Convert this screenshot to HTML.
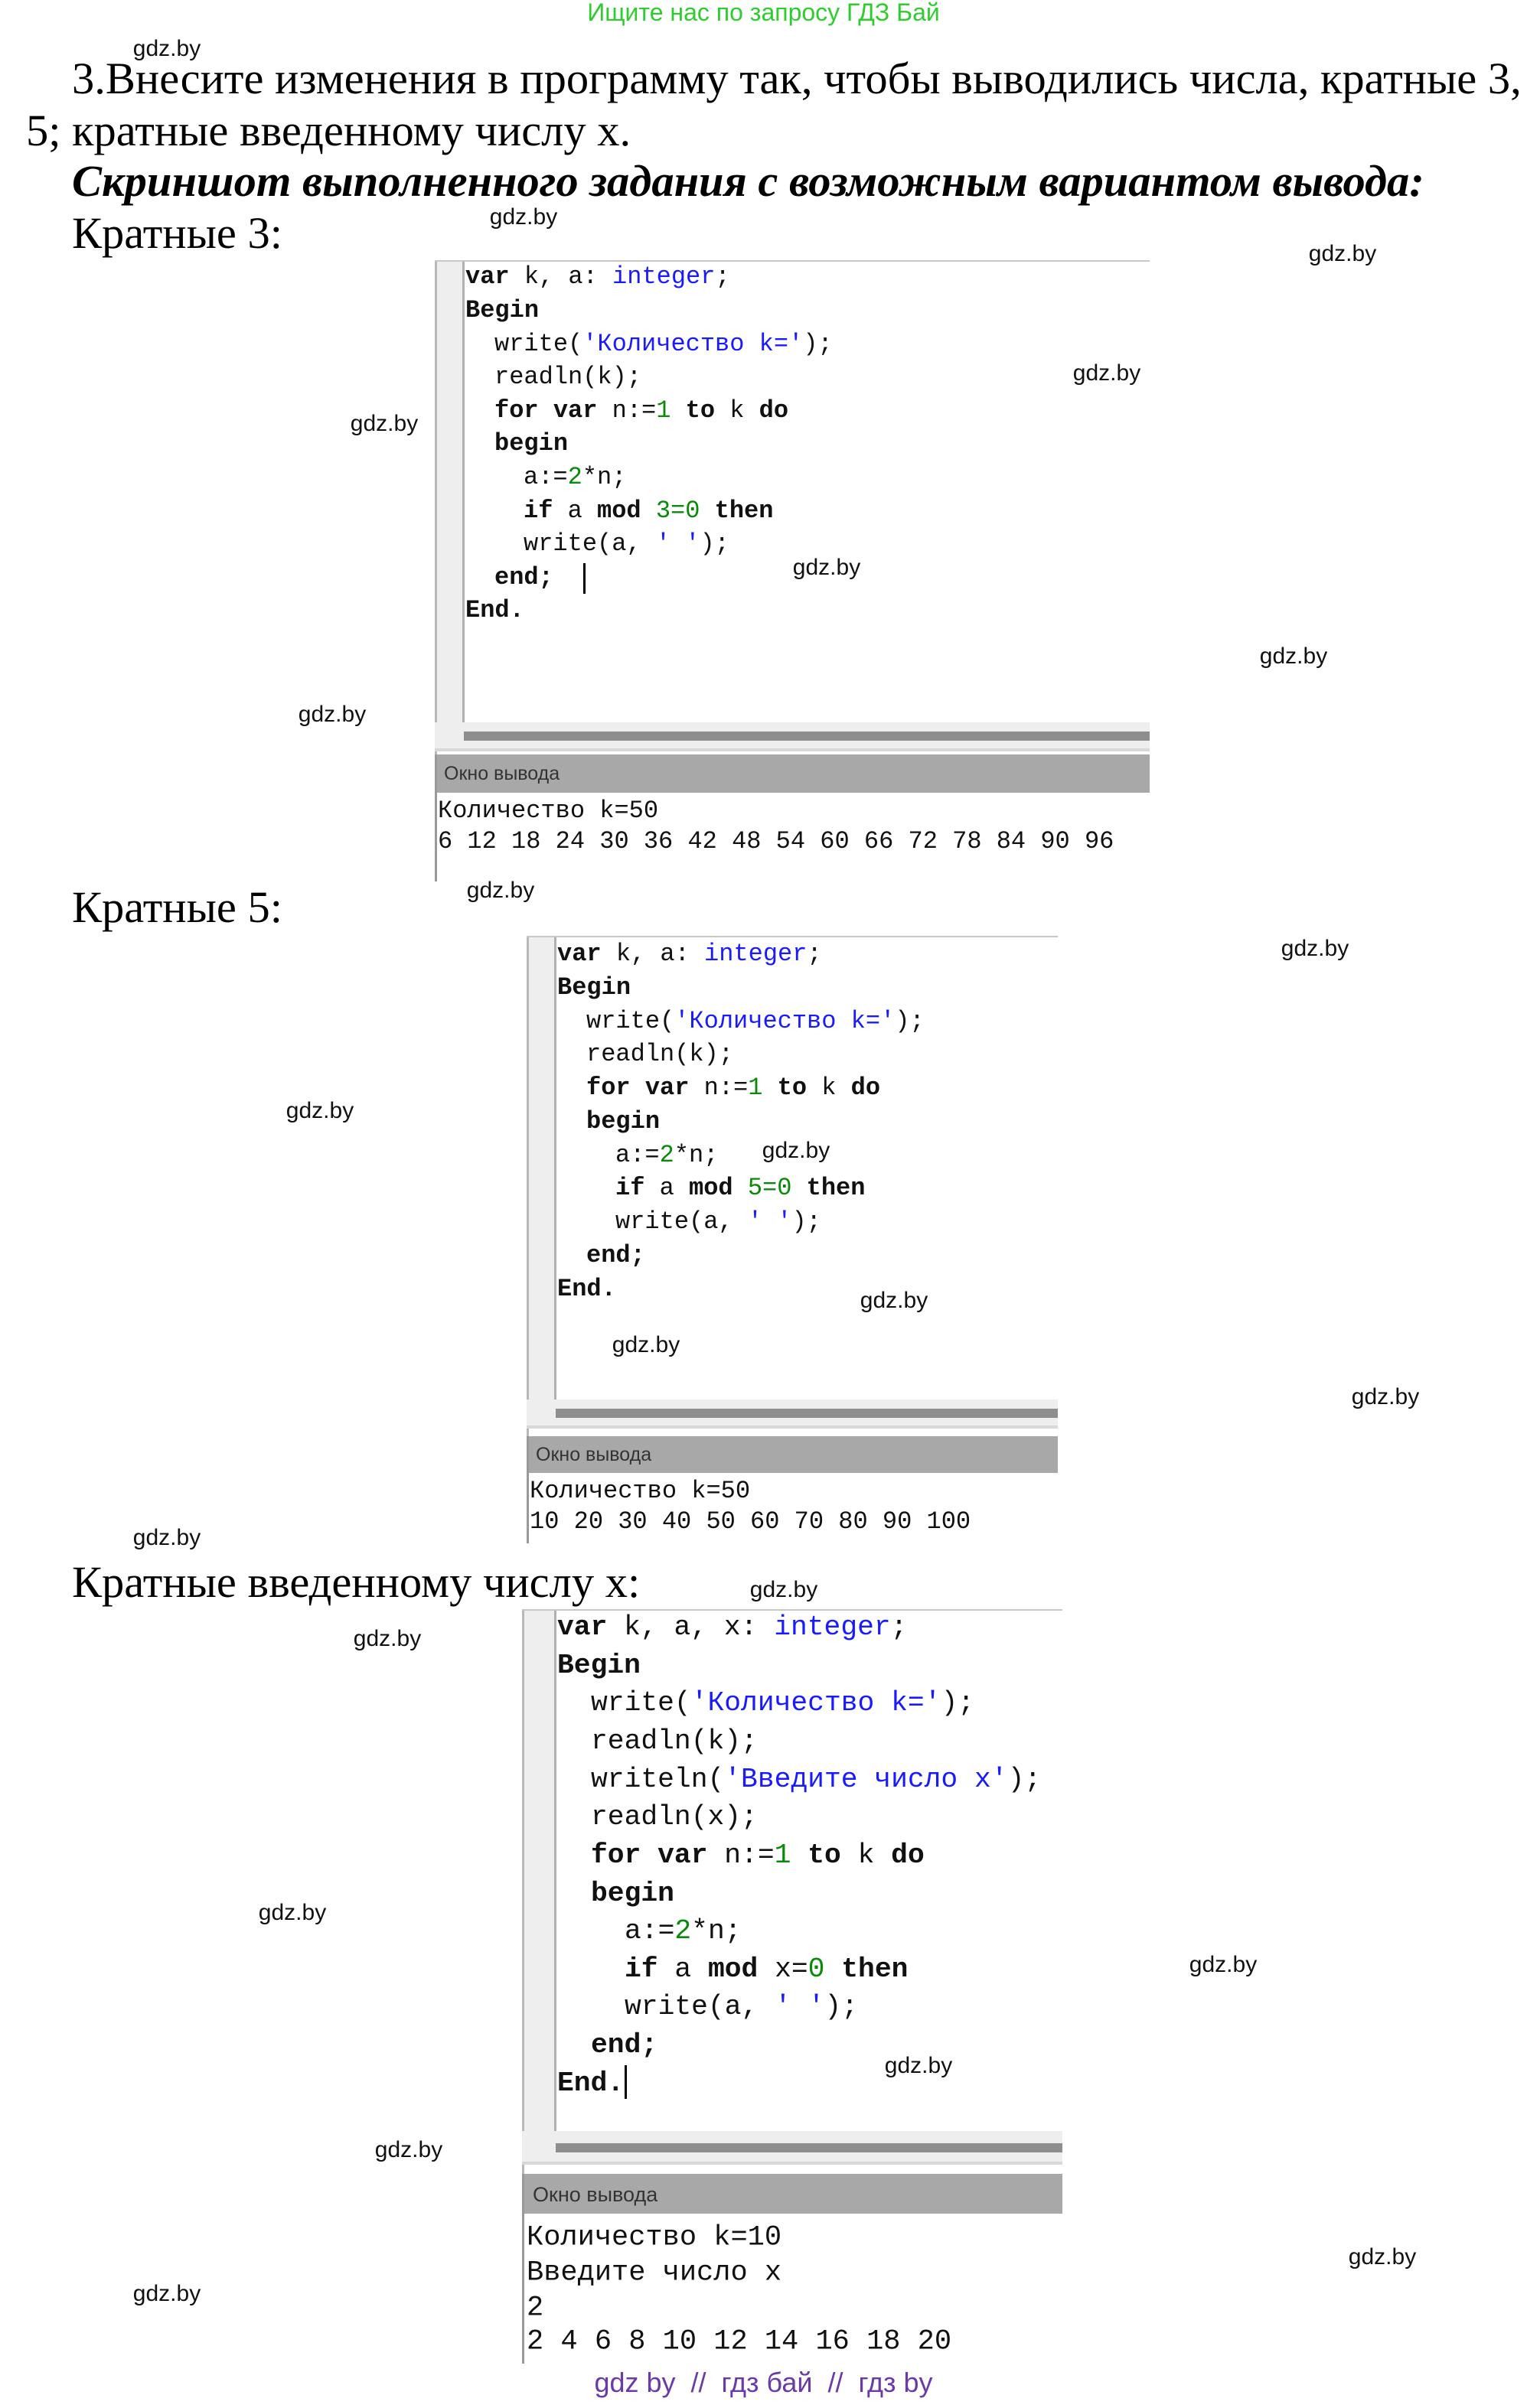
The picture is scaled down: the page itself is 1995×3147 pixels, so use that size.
<!DOCTYPE html>
<html><head><meta charset="utf-8">
<style>
body{margin:0;width:1995px;height:3147px;position:relative;background:#fff;overflow:hidden;font-family:"Liberation Serif",serif;}
.a{position:absolute;white-space:pre;}
.wm{position:absolute;font-family:"Liberation Sans",sans-serif;font-size:30px;color:#111;line-height:1;transform:translate(-50%,-50%);margin-top:4px;}
.t{position:absolute;white-space:pre;font-family:"Liberation Serif",serif;color:#000;line-height:1;}
.code{position:absolute;white-space:pre;font-family:"Liberation Mono",monospace;color:#111;line-height:1;transform:translateY(-50%);}
.b{font-weight:bold;}
.s{color:#1a1aff;}
.n{color:#0a8a0a;}
.blk{position:absolute;}
.hdr{position:absolute;background:#a8a8a8;font-family:"Liberation Sans",sans-serif;color:#333;}
.w{position:absolute;left:0;width:0;height:0;}
</style></head><body>

<div class="a" style="left:0;width:1995px;text-align:center;top:-2px;font-family:'Liberation Sans',sans-serif;font-size:32px;color:#2ecc2e;">Ищите нас по запросу ГДЗ Бай</div>

<div class="t" style="left:94px;top:74px;font-size:58.5px;">3.Внесите изменения в программу так, чтобы выводились числа, кратные 3,</div>
<div class="t" style="left:34px;top:142px;font-size:58.5px;">5; кратные введенному числу х.</div>
<div class="t" style="left:94px;top:208px;font-size:58.5px;font-weight:bold;font-style:italic;">Скриншот выполненного задания с возможным вариантом вывода:</div>
<div class="t" style="left:94px;top:276px;font-size:58.5px;">Кратные 3:</div>
<div class="t" style="left:94px;top:1157px;font-size:58.5px;">Кратные 5:</div>
<div class="t" style="left:94px;top:2039px;font-size:58.5px;">Кратные введенному числу х:</div>

<!-- Block 1 -->
<div class="w" style="top:4px">
<div class="blk" style="left:568px;top:336px;width:934px;height:2px;background:#c8c8c8"></div>
<div class="blk" style="left:568px;top:338px;width:36px;height:602px;background:#eeeeee"></div>
<div class="blk" style="left:604px;top:338px;width:3px;height:602px;background:#b0b0b0"></div>
<div class="blk" style="left:568px;top:338px;width:3px;height:810px;background:#b8b8b8"></div>
<div class="blk" style="left:568px;top:940px;width:934px;height:34px;background:#eeeeee"></div>
<div class="blk" style="left:606px;top:952px;width:896px;height:12px;background:#8e8e8e"></div>
<div class="blk" style="left:568px;top:974px;width:934px;height:4px;background:#d8d8d8"></div>
<div class="hdr" style="left:568px;top:982px;width:934px;height:50px;"><span style="position:absolute;left:12px;top:11px;font-size:25px;">Окно вывода</span></div>
<div class="blk" style="left:568px;top:982px;width:3px;height:166px;background:#999"></div>

<div class="code" style="left:608px;top:358px;font-size:32px;"><span class="b">var</span> k, a: <span class="s">integer</span>;</div>
<div class="code b" style="left:608px;top:402px;font-size:32px;">Begin</div>
<div class="code" style="left:646px;top:446px;font-size:32px;">write(<span class="s">'Количество k='</span>);</div>
<div class="code" style="left:646px;top:489px;font-size:32px;">readln(k);</div>
<div class="code" style="left:646px;top:533px;font-size:32px;"><span class="b">for var</span> n:=<span class="n">1</span> <span class="b">to</span> k <span class="b">do</span></div>
<div class="code b" style="left:646px;top:576px;font-size:32px;">begin</div>
<div class="code" style="left:684px;top:620px;font-size:32px;">a:=<span class="n">2</span>*n;</div>
<div class="code" style="left:684px;top:664px;font-size:32px;"><span class="b">if</span> a <span class="b">mod</span> <span class="n">3=0</span> <span class="b">then</span></div>
<div class="code" style="left:684px;top:707px;font-size:32px;">write(a, <span class="s">' '</span>);</div>
<div class="code b" style="left:646px;top:751px;font-size:32px;">end;</div>
<div class="blk" style="left:762px;top:732px;width:3px;height:40px;background:#000"></div>
<div class="code b" style="left:608px;top:794px;font-size:32px;">End.</div>
<div class="code" style="left:572px;top:1056px;font-size:32px;">Количество k=50</div>
<div class="code" style="left:572px;top:1096px;font-size:32px;">6 12 18 24 30 36 42 48 54 60 66 72 78 84 90 96</div>
</div>

<!-- Block 2 -->
<div class="w" style="top:7px">
<div class="blk" style="left:688px;top:1216px;width:694px;height:2px;background:#c8c8c8"></div>
<div class="blk" style="left:688px;top:1218px;width:36px;height:604px;background:#eeeeee"></div>
<div class="blk" style="left:724px;top:1218px;width:3px;height:604px;background:#b0b0b0"></div>
<div class="blk" style="left:688px;top:1218px;width:3px;height:792px;background:#b8b8b8"></div>
<div class="blk" style="left:688px;top:1822px;width:694px;height:34px;background:#eeeeee"></div>
<div class="blk" style="left:726px;top:1834px;width:656px;height:12px;background:#8e8e8e"></div>
<div class="blk" style="left:688px;top:1856px;width:694px;height:4px;background:#d8d8d8"></div>
<div class="hdr" style="left:688px;top:1870px;width:694px;height:48px;"><span style="position:absolute;left:12px;top:10px;font-size:25px;">Окно вывода</span></div>
<div class="blk" style="left:688px;top:1870px;width:3px;height:140px;background:#999"></div>

<div class="code" style="left:728px;top:1240px;font-size:32px;"><span class="b">var</span> k, a: <span class="s">integer</span>;</div>
<div class="code b" style="left:728px;top:1284px;font-size:32px;">Begin</div>
<div class="code" style="left:766px;top:1328px;font-size:32px;">write(<span class="s">'Количество k='</span>);</div>
<div class="code" style="left:766px;top:1371px;font-size:32px;">readln(k);</div>
<div class="code" style="left:766px;top:1415px;font-size:32px;"><span class="b">for var</span> n:=<span class="n">1</span> <span class="b">to</span> k <span class="b">do</span></div>
<div class="code b" style="left:766px;top:1459px;font-size:32px;">begin</div>
<div class="code" style="left:804px;top:1503px;font-size:32px;">a:=<span class="n">2</span>*n;</div>
<div class="code" style="left:804px;top:1546px;font-size:32px;"><span class="b">if</span> a <span class="b">mod</span> <span class="n">5=0</span> <span class="b">then</span></div>
<div class="code" style="left:804px;top:1590px;font-size:32px;">write(a, <span class="s">' '</span>);</div>
<div class="code b" style="left:766px;top:1634px;font-size:32px;">end;</div>
<div class="code b" style="left:728px;top:1678px;font-size:32px;">End.</div>
<div class="code" style="left:692px;top:1942px;font-size:32px;">Количество k=50</div>
<div class="code" style="left:692px;top:1982px;font-size:32px;">10 20 30 40 50 60 70 80 90 100</div>
</div>

<!-- Block 3 -->
<div class="w" style="top:9px">
<div class="blk" style="left:682px;top:2094px;width:706px;height:2px;background:#c8c8c8"></div>
<div class="blk" style="left:682px;top:2096px;width:42px;height:680px;background:#eeeeee"></div>
<div class="blk" style="left:724px;top:2096px;width:3px;height:680px;background:#b0b0b0"></div>
<div class="blk" style="left:682px;top:2096px;width:3px;height:984px;background:#b8b8b8"></div>
<div class="blk" style="left:682px;top:2776px;width:706px;height:40px;background:#eeeeee"></div>
<div class="blk" style="left:726px;top:2792px;width:662px;height:12px;background:#8e8e8e"></div>
<div class="blk" style="left:682px;top:2816px;width:706px;height:4px;background:#d8d8d8"></div>
<div class="hdr" style="left:682px;top:2832px;width:706px;height:52px;"><span style="position:absolute;left:14px;top:12px;font-size:27px;">Окно вывода</span></div>
<div class="blk" style="left:682px;top:2832px;width:3px;height:248px;background:#999"></div>

<div class="code" style="left:728px;top:2118px;font-size:36.3px;"><span class="b">var</span> k, a, x: <span class="s">integer</span>;</div>
<div class="code b" style="left:728px;top:2168px;font-size:36.3px;">Begin</div>
<div class="code" style="left:772px;top:2217px;font-size:36.3px;">write(<span class="s">'Количество k='</span>);</div>
<div class="code" style="left:772px;top:2267px;font-size:36.3px;">readln(k);</div>
<div class="code" style="left:772px;top:2317px;font-size:36.3px;">writeln(<span class="s">'Введите число x'</span>);</div>
<div class="code" style="left:772px;top:2366px;font-size:36.3px;">readln(x);</div>
<div class="code" style="left:772px;top:2416px;font-size:36.3px;"><span class="b">for var</span> n:=<span class="n">1</span> <span class="b">to</span> k <span class="b">do</span></div>
<div class="code b" style="left:772px;top:2466px;font-size:36.3px;">begin</div>
<div class="code" style="left:816px;top:2515px;font-size:36.3px;">a:=<span class="n">2</span>*n;</div>
<div class="code" style="left:816px;top:2565px;font-size:36.3px;"><span class="b">if</span> a <span class="b">mod</span> x=<span class="n">0</span> <span class="b">then</span></div>
<div class="code" style="left:816px;top:2614px;font-size:36.3px;">write(a, <span class="s">' '</span>);</div>
<div class="code b" style="left:772px;top:2664px;font-size:36.3px;">end;</div>
<div class="code b" style="left:728px;top:2714px;font-size:36.3px;">End.</div>
<div class="blk" style="left:816px;top:2690px;width:3px;height:44px;background:#000"></div>
<div class="code" style="left:688px;top:2916px;font-size:37px;">Количество k=10</div>
<div class="code" style="left:688px;top:2962px;font-size:37px;">Введите число x</div>
<div class="code" style="left:688px;top:3008px;font-size:37px;">2</div>
<div class="code" style="left:688px;top:3052px;font-size:37px;">2 4 6 8 10 12 14 16 18 20</div>
</div>

<div class="a" style="left:0;width:1995px;text-align:center;top:3093px;font-family:'Liberation Sans',sans-serif;font-size:36px;color:#6a3aa8;">gdz by  //  гдз бай  //  гдз by</div>

<div class="wm" style="left:218px;top:60px">gdz.by</div>
<div class="wm" style="left:684px;top:280px">gdz.by</div>
<div class="wm" style="left:1754px;top:328px">gdz.by</div>
<div class="wm" style="left:1446px;top:484px">gdz.by</div>
<div class="wm" style="left:502px;top:550px">gdz.by</div>
<div class="wm" style="left:1080px;top:738px">gdz.by</div>
<div class="wm" style="left:1690px;top:854px">gdz.by</div>
<div class="wm" style="left:434px;top:930px">gdz.by</div>
<div class="wm" style="left:654px;top:1160px">gdz.by</div>
<div class="wm" style="left:1718px;top:1236px">gdz.by</div>
<div class="wm" style="left:418px;top:1448px">gdz.by</div>
<div class="wm" style="left:1040px;top:1500px">gdz.by</div>
<div class="wm" style="left:1168px;top:1696px">gdz.by</div>
<div class="wm" style="left:844px;top:1754px">gdz.by</div>
<div class="wm" style="left:1810px;top:1822px">gdz.by</div>
<div class="wm" style="left:218px;top:2006px">gdz.by</div>
<div class="wm" style="left:1024px;top:2074px">gdz.by</div>
<div class="wm" style="left:506px;top:2138px">gdz.by</div>
<div class="wm" style="left:382px;top:2496px">gdz.by</div>
<div class="wm" style="left:1598px;top:2564px">gdz.by</div>
<div class="wm" style="left:1200px;top:2696px">gdz.by</div>
<div class="wm" style="left:534px;top:2806px">gdz.by</div>
<div class="wm" style="left:1806px;top:2946px">gdz.by</div>
<div class="wm" style="left:218px;top:2994px">gdz.by</div>
</body></html>
